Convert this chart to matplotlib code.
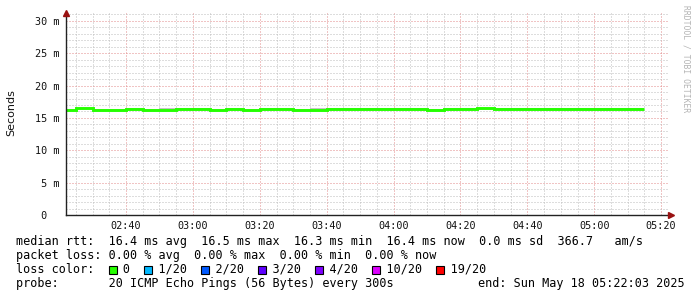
import matplotlib
matplotlib.use("Agg")
import matplotlib.pyplot as plt
import matplotlib.dates as mdates
from matplotlib.patches import Rectangle
import pandas as pd

# ---- data ----
t_start = pd.Timestamp("2025-05-18 02:22:03")
t_end = pd.Timestamp("2025-05-18 05:22:03")
# 5 minute steps, first one clipped at the left edge
step_edges = pd.date_range("2025-05-18 02:20:00", "2025-05-18 05:15:00", freq="5min")

median_ms = [16.2, 16.5, 16.3, 16.3, 16.4, 16.3, 16.3, 16.4, 16.4, 16.2,
             16.4, 16.2, 16.4, 16.4, 16.2, 16.3, 16.4, 16.4, 16.4, 16.4,
             16.4, 16.4, 16.2, 16.4, 16.4, 16.5, 16.4, 16.4, 16.4, 16.4,
             16.4, 16.4, 16.4, 16.4, 16.4]
smoke_hi = [16.3, 16.6, 16.4, 16.4, 16.5, 16.4, 16.5, 16.6, 16.5, 16.4,
            16.5, 16.4, 16.5, 16.5, 16.4, 16.5, 16.5, 16.5, 16.5, 16.5,
            16.6, 16.5, 16.4, 16.5, 16.5, 16.6, 16.5, 16.5, 16.5, 16.5,
            16.5, 16.5, 16.5, 16.5, 16.5]
smoke_lo = [16.1, 16.4, 16.2, 16.2, 16.3, 16.2, 16.2, 16.3, 16.3, 16.1,
            16.3, 16.1, 16.3, 16.3, 16.1, 16.2, 16.3, 16.3, 16.3, 16.3,
            16.3, 16.3, 16.1, 16.3, 16.3, 16.4, 16.3, 16.3, 16.3, 16.3,
            16.3, 16.3, 16.3, 16.3, 16.3]

y_ticks = [0, 5, 10, 15, 20, 25, 30]
y_ticklabels = [" 0  ", " 5 m", "10 m", "15 m", "20 m", "25 m", "30 m"]

legend_rows = [
    "median rtt:  16.4 ms avg  16.5 ms max  16.3 ms min  16.4 ms now  0.0 ms sd  366.7   am/s",
    "packet loss: 0.00 % avg  0.00 % max  0.00 % min  0.00 % now",
    "loss color:    0    1/20    2/20    3/20    4/20    10/20    19/20",
    "probe:       20 ICMP Echo Pings (56 Bytes) every 300s",
]
loss_cols = [13, 18, 26, 34, 42, 50, 59]
loss_colors = ["#26ff00", "#00b8ff", "#0059ff", "#5e00ff", "#7e00ff", "#dd00ff", "#ff0000"]
end_label = "end: Sun May 18 05:22:03 2025"

W, H = 697, 297
fig = plt.figure(figsize=(W / 100, H / 100), dpi=100)
fig.patch.set_facecolor("white")

def fx(px):
    return px / W

def fy(py):
    return 1 - py / H

x0, x1, ytop, ybot = 66, 668, 12.5, 215
ax = fig.add_axes([fx(x0), fy(ybot), fx(x1) - fx(x0), fy(ytop) - fy(ybot)])
ax.set_facecolor("white")

edges = mdates.date2num(step_edges)
ax.stairs(smoke_hi, edges, baseline=smoke_lo, fill=True, color="#c4c4c4", lw=0, zorder=3)
ax.stairs(median_ms, edges, baseline=None, color="#26ff00", lw=2.1, zorder=4)

ax.set_xlim(mdates.date2num(t_start), mdates.date2num(t_end))
ax.set_ylim(0, 31.3)

# grid like rrdtool: grey minor dots, reddish major dots
ax.xaxis.set_major_locator(mdates.MinuteLocator(byminute=[0, 20, 40]))
ax.xaxis.set_minor_locator(mdates.MinuteLocator(byminute=range(0, 60, 5)))
ax.xaxis.set_major_formatter(mdates.DateFormatter("%H:%M"))
ax.set_yticks(y_ticks)
ax.set_yticklabels(y_ticklabels)
ax.set_yticks(range(0, 32), minor=True)

dots = (0, (1, 2))
ax.grid(which="minor", color="#bdbdbd", lw=0.72, ls=dots, zorder=1)
ax.grid(which="major", color="#e28a8a", lw=0.72, ls=dots, zorder=2)
ax.set_axisbelow(True)

ax.tick_params(which="both", length=0)
ax.tick_params(axis="y", pad=4.5)
ax.tick_params(axis="x", pad=4)
for lab in ax.get_xticklabels() + ax.get_yticklabels():
    lab.set_family("DejaVu Sans Mono")
    lab.set_fontsize(7.3)
    lab.set_color("#111111")

for s in ["top", "right"]:
    ax.spines[s].set_visible(False)
for s in ["left", "bottom"]:
    ax.spines[s].set_color("#222222")
    ax.spines[s].set_linewidth(1.0)
    ax.spines[s].set_zorder(5)

# axis arrows
ax.plot([0], [1.0], marker="^", ms=4.5, color="#991111", transform=ax.transAxes,
        clip_on=False, zorder=6)
ax.plot([1.005], [0], marker=">", ms=4.5, color="#991111", transform=ax.transAxes,
        clip_on=False, zorder=6)

fig.text(fx(11), fy(113), "Seconds", rotation=90, ha="center", va="center",
         fontsize=8, family="DejaVu Sans", color="#111111")
fig.text(fx(686), fy(5), "RRDTOOL / TOBI OETIKER", rotation=270, ha="center", va="top",
         fontsize=5.8, family="DejaVu Sans Mono", color="#b4b4b4")

# legend block below the graph
fs = 8.5
cw = fs * 100 / 72 * 0.6021
row_y = [241, 255, 269, 283]
for txt, py in zip(legend_rows, row_y):
    fig.text(fx(16), fy(py), txt, ha="left", va="center", fontsize=fs,
             family="DejaVu Sans Mono", color="#000000")
fig.text(fx(478), fy(row_y[3]), end_label, ha="left", va="center", fontsize=fs,
         family="DejaVu Sans Mono", color="#000000")

sq = 8
for col, c in zip(loss_cols, loss_colors):
    left = 16 + col * cw + 0.5
    fig.add_artist(Rectangle((fx(left), fy(row_y[2] + sq / 2 + 0.5)), fx(sq), sq / H,
                             transform=fig.transFigure, facecolor=c,
                             edgecolor="black", lw=0.8))

fig.savefig("out.png", dpi=100)
